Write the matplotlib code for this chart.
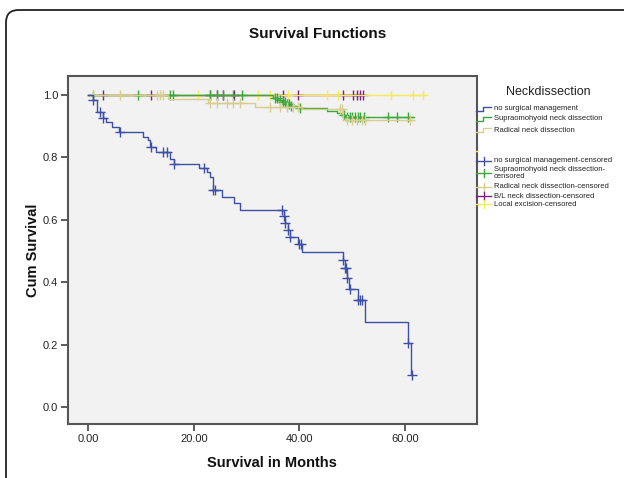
import numpy as np
import matplotlib
matplotlib.use("Agg")
import matplotlib.pyplot as plt
from matplotlib.lines import Line2D
from matplotlib.patches import FancyBboxPatch

plt.rcParams['font.family'] = ['Liberation Sans', 'DejaVu Sans']

# ---------------- data ----------------
# no surgical management (step function)
nsm_times = [0, 1.0, 1.6, 2.8, 3.3, 4.5, 5.9, 10.4, 11.4, 11.8, 12.8, 15.5, 16.2,
             21.0, 22.5, 23.0, 23.6, 25.4, 27.6, 28.8, 37.0, 37.3, 37.8, 38.2,
             39.8, 40.5, 48.3, 48.6, 49.0, 49.4, 51.1, 52.4, 60.6, 61.1]
nsm_surv = [1.0, 0.985, 0.945, 0.926, 0.913, 0.897, 0.881, 0.866, 0.856, 0.833,
            0.817, 0.795, 0.779, 0.766, 0.752, 0.737, 0.695, 0.672, 0.654, 0.633,
            0.612, 0.589, 0.567, 0.545, 0.522, 0.497, 0.471, 0.445, 0.413, 0.378,
            0.343, 0.272, 0.205, 0.103]
nsm_end = 61.3
nsm_censor = [1.0, 2.3, 2.8, 6.1, 11.9, 14.2, 14.9, 16.2, 22.0, 23.6, 24.0, 36.7,
              37.0, 37.3, 37.8, 38.2, 39.9, 40.3, 48.3, 48.6, 48.9, 49.0, 49.6,
              51.1, 51.5, 51.9, 60.6, 61.3]

# Supraomohyoid neck dissection
smnd_times = [0, 35.0, 36.0, 36.7, 37.6, 38.2, 39.5, 45.2, 47.1, 48.0, 48.6]
smnd_surv = [1.0, 0.99, 0.984, 0.978, 0.972, 0.966, 0.960, 0.950, 0.943, 0.936, 0.930]
smnd_end = 61.7
smnd_censor = [1.0, 9.5, 15.5, 16.1, 23.1, 24.4, 25.6, 27.4, 29.1, 35.3, 35.8, 36.3,
               36.8, 37.2, 37.6, 38.0, 38.4, 40.1, 48.5, 49.0, 49.5, 50.0, 50.5,
               51.0, 51.5, 52.2, 56.8, 58.5, 60.6]

# Radical neck dissection
rnd_times = [0, 15.1, 22.7, 31.6, 40.5, 48.3]
rnd_surv = [1.0, 0.987, 0.974, 0.962, 0.955, 0.920]
rnd_end = 61.5
rnd_censor = [1.0, 6.0, 13.0, 13.6, 14.2, 23.1, 24.4, 26.3, 27.4, 28.8, 34.5, 36.3,
              37.7, 38.8, 39.7, 47.7, 48.0, 49.0, 50.0, 50.9, 51.9, 52.4, 60.9]

# B/L neck dissection (no events)
bl_times = [0]
bl_surv = [1.0]
bl_end = 52.1
bl_censor = [2.8, 11.9, 23.1, 24.4, 25.6, 27.6, 36.9, 39.7, 48.3, 50.1, 50.8, 51.4, 52.1]

# Local excision (no events)
le_times = [0]
le_surv = [1.0]
le_end = 63.4
le_censor = [20.8, 32.1, 34.5, 37.9, 45.3, 47.3, 57.3, 61.5, 63.4]

line_labels = ["no surgical management", "Supraomohyoid neck dissection",
               "Radical neck dissection"]
censor_labels = ["no surgical management-censored",
                 "Supraomohyoid neck dissection-\ncensored",
                 "Radical neck dissection-censored",
                 "B/L neck dissection-censored",
                 "Local excision-censored"]
legend_title = "Neckdissection"

c_blue = '#3e4fa6'
c_green = '#3aa83a'
c_tan = '#d8cd8e'
c_purple = '#7c1d7c'
c_yellow = '#f3eb57'

# ---------------- figure ----------------
W, H = 624, 478
fig = plt.figure(figsize=(W / 100, H / 100), dpi=100)
fig.patch.set_facecolor('white')


def fx(x):
    return x / W


def fy(y):
    return 1 - y / H


# rounded outer frame
frame = FancyBboxPatch((fx(6), fy(500)), fx(700), fy(10) - fy(500),
                       boxstyle="round,pad=0,rounding_size=0.02",
                       transform=fig.transFigure, facecolor='none',
                       edgecolor='#222222', linewidth=1.3, mutation_aspect=W / H)
fig.patches.append(frame)

ax = fig.add_axes([fx(68), fy(424), fx(477) - fx(68), fy(76) - fy(424)])
ax.set_facecolor('#f2f2f2')
ax.set_xlim(-3.8, 73.6)
ax.set_ylim(-0.054, 1.061)


def step_val(times, surv, t):
    idx = np.searchsorted(times, t, side='right') - 1
    return np.asarray(surv)[idx]


def draw_group(times, surv, end, censor, color, lw=1.0, z=2):
    xs = list(times) + [end]
    ys = list(surv) + [surv[-1]]
    ax.step(xs, ys, where='post', color=color, lw=lw, zorder=z)
    cy = [step_val(times, surv, t) for t in censor]
    ax.plot(censor, cy, linestyle='none', marker='+', markersize=6.5,
            markeredgewidth=1.0, color=color, zorder=z + 0.5)


draw_group(bl_times, bl_surv, bl_end, bl_censor, c_purple, z=2)
draw_group(le_times, le_surv, le_end, le_censor, c_yellow, z=3)
draw_group(smnd_times, smnd_surv, smnd_end, smnd_censor, c_green, z=4)
draw_group(rnd_times, rnd_surv, rnd_end, rnd_censor, c_tan, z=5)
draw_group(nsm_times, nsm_surv, nsm_end, nsm_censor, c_blue, z=6)

ax.set_xticks([0, 20, 40, 60])
ax.set_xticklabels(["%.2f" % v for v in [0, 20, 40, 60]])
ax.set_yticks([0.0, 0.2, 0.4, 0.6, 0.8, 1.0])
ax.set_yticklabels(["%.1f" % v for v in [0.0, 0.2, 0.4, 0.6, 0.8, 1.0]])
ax.tick_params(direction='out', length=5, width=1.2, color='#404040',
               labelsize=8, pad=2, labelcolor='#222222')
for s in ax.spines.values():
    s.set_color('#555555')
    s.set_linewidth(1.5)

fig.text(fx(318), fy(34), "Survival Functions", ha='center', va='center',
         fontsize=11, fontweight='bold', color='#111111')
fig.text(fx(272), fy(463), "Survival in Months", ha='center', va='center',
         fontsize=10.5, fontweight='bold', color='#111111')
fig.text(fx(33), fy(250), "Cum Survival", ha='center', va='center',
         rotation=90, fontsize=10.5, fontweight='bold', color='#111111')

# ---------------- legend ----------------
fig.text(fx(548), fy(92), legend_title, ha='center', va='center', fontsize=9,
         color='#222222')
line_cols = [c_blue, c_green, c_tan]
line_ys = [109, 119, 130]
for lab, col, yy in zip(line_labels, line_cols, line_ys):
    fig.lines.append(Line2D([fx(476), fx(483), fx(483), fx(491)],
                            [fy(yy + 2), fy(yy + 2), fy(yy - 2), fy(yy - 2)],
                            transform=fig.transFigure, color=col, lw=1.0))
    fig.text(fx(494), fy(yy), lab, ha='left', va='center', fontsize=5.5,
             color='#222222')
# small fragment left from the hidden line entries
fig.lines.append(Line2D([fx(476), fx(477)], [fy(151), fy(151)],
                        transform=fig.transFigure, color=c_yellow, lw=1.0))

cens_cols = [c_blue, c_green, c_tan, c_purple, c_yellow]
cens_ys = [161, 173, 187, 196, 204]
for lab, col, yy in zip(censor_labels, cens_cols, cens_ys):
    fig.lines.append(Line2D([fx(476), fx(491)], [fy(yy), fy(yy)],
                            transform=fig.transFigure, color=col, lw=1.0))
    fig.lines.append(Line2D([fx(483.5), fx(483.5)], [fy(yy - 4), fy(yy + 4)],
                            transform=fig.transFigure, color=col, lw=1.0))
    fig.text(fx(494), fy(yy), lab, ha='left', va='center', fontsize=5.5,
             color='#222222', linespacing=0.95)

fig.savefig("out.png", dpi=100)
